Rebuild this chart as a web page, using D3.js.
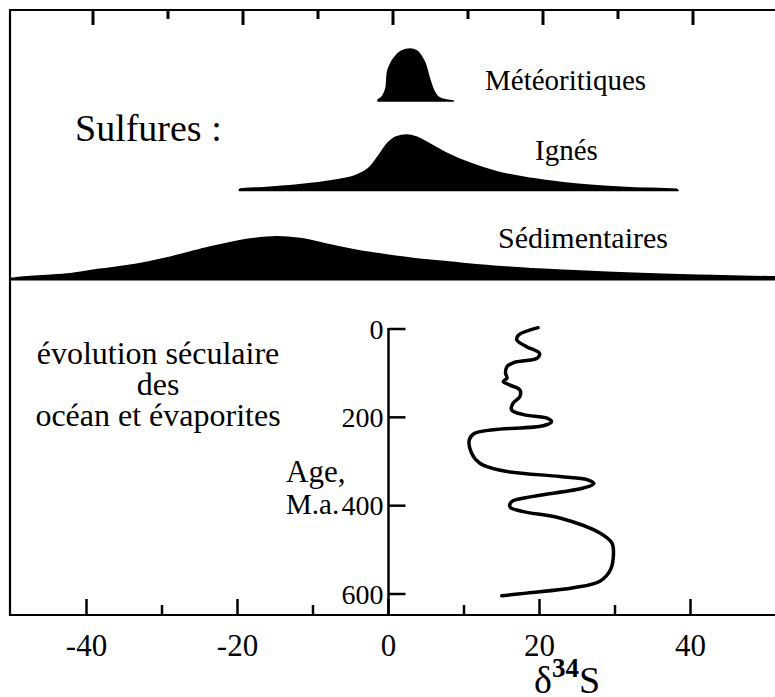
<!DOCTYPE html>
<html><head><meta charset="utf-8">
<script src="https://cdn.jsdelivr.net/npm/d3@7"></script>
<style>
html,body{margin:0;padding:0;background:#fff;}
svg{display:block;}
</style></head>
<body>
<script>
// ---- data ----
const xTicks = [-40,-30,-20,-10,0,10,20,30,40];
const xTickLabels = [-40,-20,0,20,40];
const ageTicks = [0,200,400,600];

const meteorD34S = [-2.0,-1.3,-0.9,-0.76,-0.4,0.27,1.16,2.27,3.16,3.83,4.36,4.8,5.29,6.04,7.16,8.04];
const meteorFreq = [1,6,14,28,36,44,50,52,50,44,36,24,13,4,1,0];

const igneD34S = [-20.5,-20.4,-17.3,-12.8,-8.4,-4.8,-3.1,-2.0,-0.8,0.5,1.8,3.2,4.9,7.2,10.3,13.8,18.3,22.7,27.2,31.7,37.8,38.0];
const igneFreq = [0,1.5,2.8,5.5,9.5,15.5,23.2,33.8,46.5,53.8,55.5,53.2,46.5,37.2,27.2,18.8,12.2,7.8,4.8,2.8,1.2,0];

const sedD34S = [-50.4,-50.3,-43.5,-39.1,-34.6,-30.2,-25.7,-21.3,-18.6,-15.5,-12.4,-8.0,-3.5,-0.6,2.7,7.2,11.6,16.0,22.7,29.4,36.0,42.7,50.3,52];
const sedFreq = [0,1.3,4.9,9.7,14.2,21,29.6,37,40.4,42.2,40.6,33.5,26.9,23.7,20.5,17.3,14.1,11.6,8.8,6.5,4.7,3.5,2.2,2];

const seaAge  = [-3,14,25,40,55,66,76,85,100,111,119,127,138,153,168,183,194,202,210,219,228,237,251,281,304,320,334,341,350,360,379,391,403,413,428,462,485,507,545,571,586,598,604];
const seaD34S = [19.8,17.2,17.0,18.3,20.0,19.7,16.6,15.7,15.5,15.7,15.2,16.1,17.4,17.4,16.5,16.3,17.9,21.0,21.6,20.5,13.9,11.3,10.7,11.0,12.1,14.8,22.7,26.3,27.2,25.8,19.2,16.3,16.1,17.7,22.7,28.0,29.6,29.8,29.4,28.0,24.5,18.3,15.0];

// ---- layout ----
const W = 775, H = 697;
const FONT = "Liberation Serif";
const svg = d3.select("body").append("svg").attr("width", W).attr("height", H);

function txt(sel){ return sel.append("text").attr("font-family", FONT).attr("fill","#000"); }

const xTop = d3.scaleLinear().domain([-40,40]).range([93,693]);
const xBot = d3.scaleLinear().domain([-40,40]).range([86.5,690.5]);
const yAge = d3.scaleLinear().domain([0,600]).range([329,594]);
const fH = d3.scaleLinear().domain([0,60]).range([0,60]);

const frameL = 10, frameT = 10, frameB = 615, divY = 279;

// frame
svg.append("path")
  .attr("d", `M${W+5},${frameT}H${frameL}V${frameB}H${W+5}`)
  .attr("fill","none").attr("stroke","#000").attr("stroke-width",2.2);
svg.append("line").attr("x1",frameL).attr("x2",W+5).attr("y1",divY).attr("y2",divY)
  .attr("stroke","#000").attr("stroke-width",3);

// top ticks
svg.append("g").selectAll("line").data(xTicks).join("line")
  .attr("x1",d=>xTop(d)).attr("x2",d=>xTop(d))
  .attr("y1",frameT).attr("y2",d=>frameT + (d%20===0?15:9))
  .attr("stroke","#000").attr("stroke-width",3);

// bottom ticks
svg.append("g").selectAll("line").data(xTicks).join("line")
  .attr("x1",d=>xBot(d)).attr("x2",d=>xBot(d))
  .attr("y1",frameB).attr("y2",d=>frameB - (d%20===0?16:10))
  .attr("stroke","#000").attr("stroke-width",2.5);

svg.append("g").selectAll("text").data(xTickLabels).join("text")
  .attr("font-family", FONT)
  .attr("x",d=>xBot(d)).attr("y",656).attr("text-anchor","middle")
  .attr("font-size",31).text(d=>d);

// distributions
function dist(xs, fs, base){
  const pts = xs.map((x,i)=>[x,fs[i]]);
  const area = d3.area().x(d=>xTop(d[0])).y0(base).y1(d=>base - fH(d[1])).curve(d3.curveMonotoneX);
  svg.append("path").attr("d",area(pts)).attr("fill","#000")
    .attr("stroke","#000").attr("stroke-width",1.5).attr("stroke-linejoin","round");
}
dist(meteorD34S, meteorFreq, 101);
dist(igneD34S, igneFreq, 190.5);
dist(sedD34S, sedFreq, 279);

// labels top
txt(svg).attr("x",75).attr("y",141).attr("font-size",38).text("Sulfures :");
txt(svg).attr("x",485).attr("y",90).attr("font-size",29).text("Météoritiques");
txt(svg).attr("x",535).attr("y",160).attr("font-size",29).text("Ignés");
txt(svg).attr("x",498).attr("y",248).attr("font-size",30).text("Sédimentaires");

// age axis
const ax0 = xBot(0);
svg.append("line").attr("x1",ax0).attr("x2",ax0).attr("y1",yAge(0)-1).attr("y2",frameB)
  .attr("stroke","#000").attr("stroke-width",2.5);
svg.append("g").selectAll("line").data(ageTicks).join("line")
  .attr("x1",ax0).attr("x2",ax0+17).attr("y1",d=>yAge(d)).attr("y2",d=>yAge(d))
  .attr("stroke","#000").attr("stroke-width",2.5);
svg.append("g").selectAll("text").data(ageTicks).join("text")
  .attr("font-family", FONT)
  .attr("x",ax0-5).attr("y",d=>yAge(d)).attr("dy","0.35em").attr("text-anchor","end")
  .attr("font-size",28).text(d=>d);

// seawater curve
const line = d3.line().x(d=>xBot(d[1])).y(d=>yAge(d[0])).curve(d3.curveCatmullRom.alpha(0.5));
svg.append("path").attr("d", line(seaAge.map((a,i)=>[a,seaD34S[i]])))
  .attr("fill","none").attr("stroke","#000").attr("stroke-width",3.5)
  .attr("stroke-linecap","round").attr("stroke-linejoin","round");

// left texts
txt(svg).attr("x",158).attr("y",364).attr("font-size",32).attr("text-anchor","middle").text("évolution séculaire");
txt(svg).attr("x",158).attr("y",395).attr("font-size",32).attr("text-anchor","middle").text("des");
txt(svg).attr("x",158).attr("y",426).attr("font-size",32).attr("text-anchor","middle").text("océan et évaporites");
txt(svg).attr("x",286).attr("y",482).attr("font-size",31).text("Age,");
txt(svg).attr("x",286).attr("y",514).attr("font-size",29).text("M.a.");

// delta34S label
const dl = txt(svg).attr("x",534).attr("y",693).attr("font-size",38);
dl.append("tspan").text("δ");
dl.append("tspan").attr("font-size",27).attr("font-weight","bold").attr("dy",-16).text("34");
dl.append("tspan").attr("dy",16).text("S");
</script>
</body></html>
